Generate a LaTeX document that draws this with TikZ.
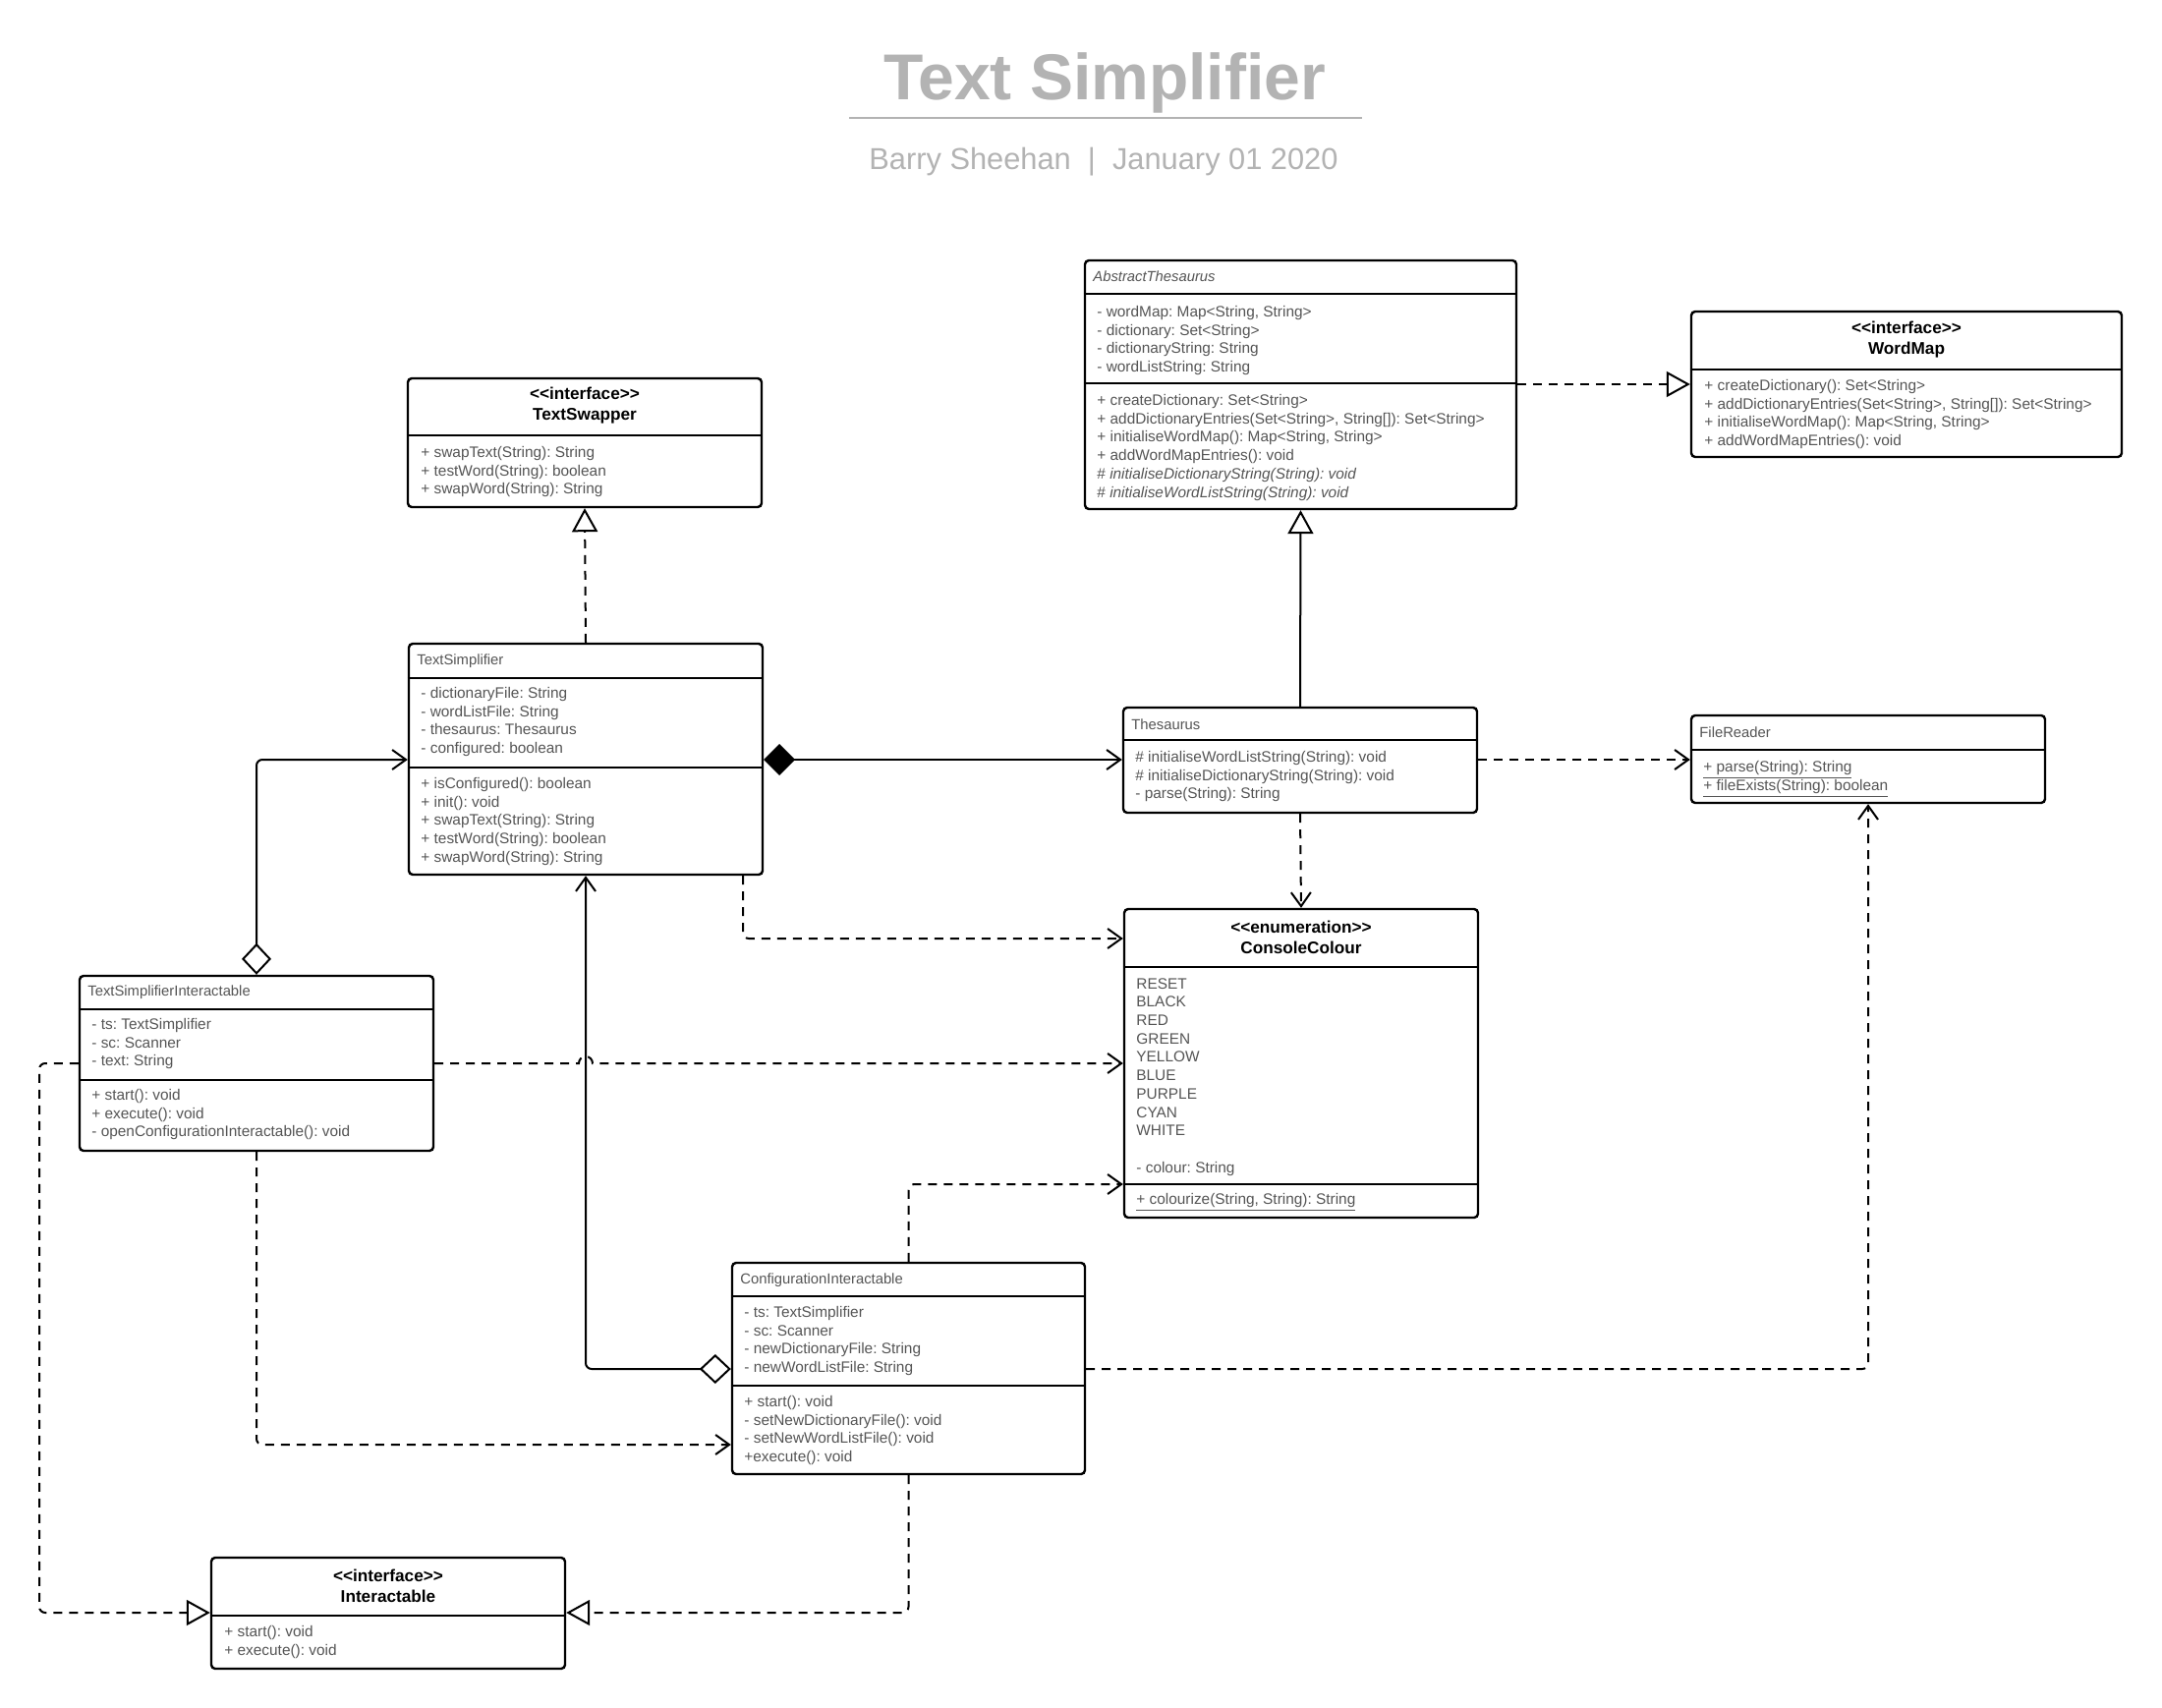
\documentclass[tikz,border=0pt]{standalone}
\usepackage{fontspec}
\setmainfont{Liberation Sans}
\usetikzlibrary{arrows.meta,fit}
\frenchspacing
\begin{document}
\begin{tikzpicture}[x=0.5pt,y=-0.5pt,
  cls/.style={draw,line width=1.2pt,rounded corners=2pt,inner sep=0pt},
  sep/.style={line width=1.2pt},
  hd/.style={anchor=center,inner sep=0pt,align=center,font=\bfseries\fontsize{8.6}{10.5}\selectfont},
  ttl/.style={anchor=base west,inner sep=0pt,text=tg,font=\fontsize{7.4}{9}\selectfont},
  txt/.style={anchor=north west,inner sep=0pt,align=left,text=tg,font=\fontsize{7.7}{9.35}\selectfont},
  lnk/.style={line width=1pt,rounded corners=3pt},
  dsh/.style={dash pattern=on 4.5pt off 3.5pt},
  dep/.style={lnk,dsh,-{Straight Barb[length=7pt,width=10pt]}},
  real/.style={lnk,dsh,-{Triangle[open,fill=white,length=12pt,width=13pt]}},
  gen/.style={lnk,-{Triangle[open,fill=white,length=12pt,width=13pt]}},
  aggr/.style={lnk,{Diamond[open,fill=white,length=16pt,width=15pt]}-{Straight Barb[length=7pt,width=10pt]}},
  comp/.style={lnk,{Diamond[length=16pt,width=16pt]}-{Straight Barb[length=7pt,width=10pt]}}]
\definecolor{tg}{RGB}{85,85,85}
\definecolor{tgr}{RGB}{179,179,179}

\fill[white] (0,0) rectangle (2200,1738);

\node[anchor=base,inner sep=0pt,text=tgr,font=\bfseries\fontsize{33}{40}\selectfont] (title) at (1124,102) {Text Simplifier};
\draw[tgr,line width=1pt] (864,120) -- (1386,120);
\node[anchor=base,inner sep=0pt,text=tgr,font=\fontsize{15.4}{18}\selectfont] (sub) at (1123,173) {Barry Sheehan~~|~~January 01 2020};

\node[cls,fit={(1104,265) (1543,518)}] (abst) {};
\draw[sep] (abst.west |- 0,299) -- (abst.east |- 0,299);
\draw[sep] (abst.west |- 0,390) -- (abst.east |- 0,390);
\node[ttl] (abst-t) at (1112,287) {\itshape AbstractThesaurus};
\node[txt] (abst-a) at (1116,311) {- wordMap: Map<String, String>\\- dictionary: Set<String>\\- dictionaryString: String\\- wordListString: String};
\node[txt] (abst-o) at (1116,401) {+ createDictionary: Set<String>\\+ addDictionaryEntries(Set<String>, String[]): Set<String>\\+ initialiseWordMap(): Map<String, String>\\+ addWordMapEntries(): void\\\# \textit{initialiseDictionaryString(String): void}\\\# \textit{initialiseWordListString(String): void}};

\node[cls,fit={(1721,317) (2159,465)}] (wmap) {};
\draw[sep] (wmap.west |- 0,376) -- (wmap.east |- 0,376);
\node[hd] (wmap-h) at (1940,346) {<{}<interface>{}>\\WordMap};
\node[txt] (wmap-o) at (1734,386) {+ createDictionary(): Set<String>\\+ addDictionaryEntries(Set<String>, String[]): Set<String>\\+ initialiseWordMap(): Map<String, String>\\+ addWordMapEntries(): void};

\node[cls,fit={(415,385) (775,516)}] (tsw) {};
\draw[sep] (tsw.west |- 0,443) -- (tsw.east |- 0,443);
\node[hd] (tsw-h) at (595,413) {<{}<interface>{}>\\TextSwapper};
\node[txt] (tsw-o) at (428,454) {+ swapText(String): String\\+ testWord(String): boolean\\+ swapWord(String): String};

\node[cls,fit={(416,655) (776,890)}] (tsimp) {};
\draw[sep] (tsimp.west |- 0,690) -- (tsimp.east |- 0,690);
\draw[sep] (tsimp.west |- 0,781) -- (tsimp.east |- 0,781);
\node[ttl] (tsimp-t) at (424,676) {TextSimplifier};
\node[txt] (tsimp-a) at (428,699) {- dictionaryFile: String\\- wordListFile: String\\- thesaurus: Thesaurus\\- configured: boolean};
\node[txt] (tsimp-o) at (428,791) {+ isConfigured(): boolean\\+ init(): void\\+ swapText(String): String\\+ testWord(String): boolean\\+ swapWord(String): String};

\node[cls,fit={(1143,720) (1503,827)}] (thes) {};
\draw[sep] (thes.west |- 0,753) -- (thes.east |- 0,753);
\node[ttl] (thes-t) at (1151,742) {Thesaurus};
\node[txt] (thes-o) at (1155,764) {\# initialiseWordListString(String): void\\\# initialiseDictionaryString(String): void\\- parse(String): String};

\node[cls,fit={(1721,728) (2081,817)}] (frd) {};
\draw[sep] (frd.west |- 0,763) -- (frd.east |- 0,763);
\node[ttl] (frd-t) at (1729,750) {FileReader};
\node[txt] (frd-o) at (1733,774) {\underline{+ parse(String): String}\\\underline{+ fileExists(String): boolean}};

\node[cls,fit={(1144,925) (1504,1239)}] (ccol) {};
\draw[sep] (ccol.west |- 0,984) -- (ccol.east |- 0,984);
\draw[sep] (ccol.west |- 0,1205) -- (ccol.east |- 0,1205);
\node[hd] (ccol-h) at (1324,954) {<{}<enumeration>{}>\\ConsoleColour};
\node[txt] (ccol-a) at (1156,995) {RESET\\BLACK\\RED\\GREEN\\YELLOW\\BLUE\\PURPLE\\CYAN\\WHITE\\[9.35pt]- colour: String};
\node[txt] (ccol-o) at (1156,1214) {\underline{+ colourize(String, String): String}};

\node[cls,fit={(81,993) (441,1171)}] (tsi) {};
\draw[sep] (tsi.west |- 0,1027) -- (tsi.east |- 0,1027);
\draw[sep] (tsi.west |- 0,1099) -- (tsi.east |- 0,1099);
\node[ttl] (tsi-t) at (89,1013) {TextSimplifierInteractable};
\node[txt] (tsi-a) at (93,1036) {- ts: TextSimplifier\\- sc: Scanner\\- text: String};
\node[txt] (tsi-o) at (93,1108) {+ start(): void\\+ execute(): void\\- openConfigurationInteractable(): void};

\node[cls,fit={(745,1285) (1104,1500)}] (cfg) {};
\draw[sep] (cfg.west |- 0,1319) -- (cfg.east |- 0,1319);
\draw[sep] (cfg.west |- 0,1410) -- (cfg.east |- 0,1410);
\node[ttl] (cfg-t) at (753,1306) {ConfigurationInteractable};
\node[txt] (cfg-a) at (757,1329) {- ts: TextSimplifier\\- sc: Scanner\\- newDictionaryFile: String\\- newWordListFile: String};
\node[txt] (cfg-o) at (757,1420) {+ start(): void\\- setNewDictionaryFile(): void\\- setNewWordListFile(): void\\+execute(): void};

\node[cls,fit={(215,1585) (575,1698)}] (iact) {};
\draw[sep] (iact.west |- 0,1644) -- (iact.east |- 0,1644);
\node[hd] (iact-h) at (395,1614) {<{}<interface>{}>\\Interactable};
\node[txt] (iact-o) at (228,1654) {+ start(): void\\+ execute(): void};

\coordinate (bend) at (40,1082);
\coordinate (hop) at (589,1082);

\draw[real] (tsimp.north) -- (tsw.south);
\draw[gen] (thes.north) -- (abst.south);
\draw[real] (abst.east |- 0,391) -- (wmap.west |- 0,391);
\draw[comp] (tsimp.east |- 0,773) -- (thes.west |- 0,773);
\draw[dep] (thes.east |- 0,773) -- (frd.west |- 0,773);
\draw[dep] (thes.south) -- (ccol.north);
\draw[dep] (tsimp.south -| 756,0) |- (ccol.west |- 0,955);
\draw[aggr] (cfg.west |- 0,1393) -| (tsimp.south);
\draw[aggr] (tsi.north) |- (tsimp.west |- 0,773);
\draw[dep,sharp corners] (tsi.east |- 0,1082) -- (hop) arc[start angle=180,end angle=0,radius=3.5pt] -- (ccol.west |- 0,1082);
\draw[dep] (tsi.south) |- (cfg.west |- 0,1470);
\draw[real] (tsi.west |- 0,1082) -- (bend) |- (iact.west |- 0,1641);
\draw[dep] (cfg.north) |- (ccol.west |- 0,1205);
\draw[real] (cfg.south) |- (iact.east |- 0,1641);
\draw[dep] (cfg.east |- 0,1393) -| (frd.south);
\end{tikzpicture}
\end{document}
